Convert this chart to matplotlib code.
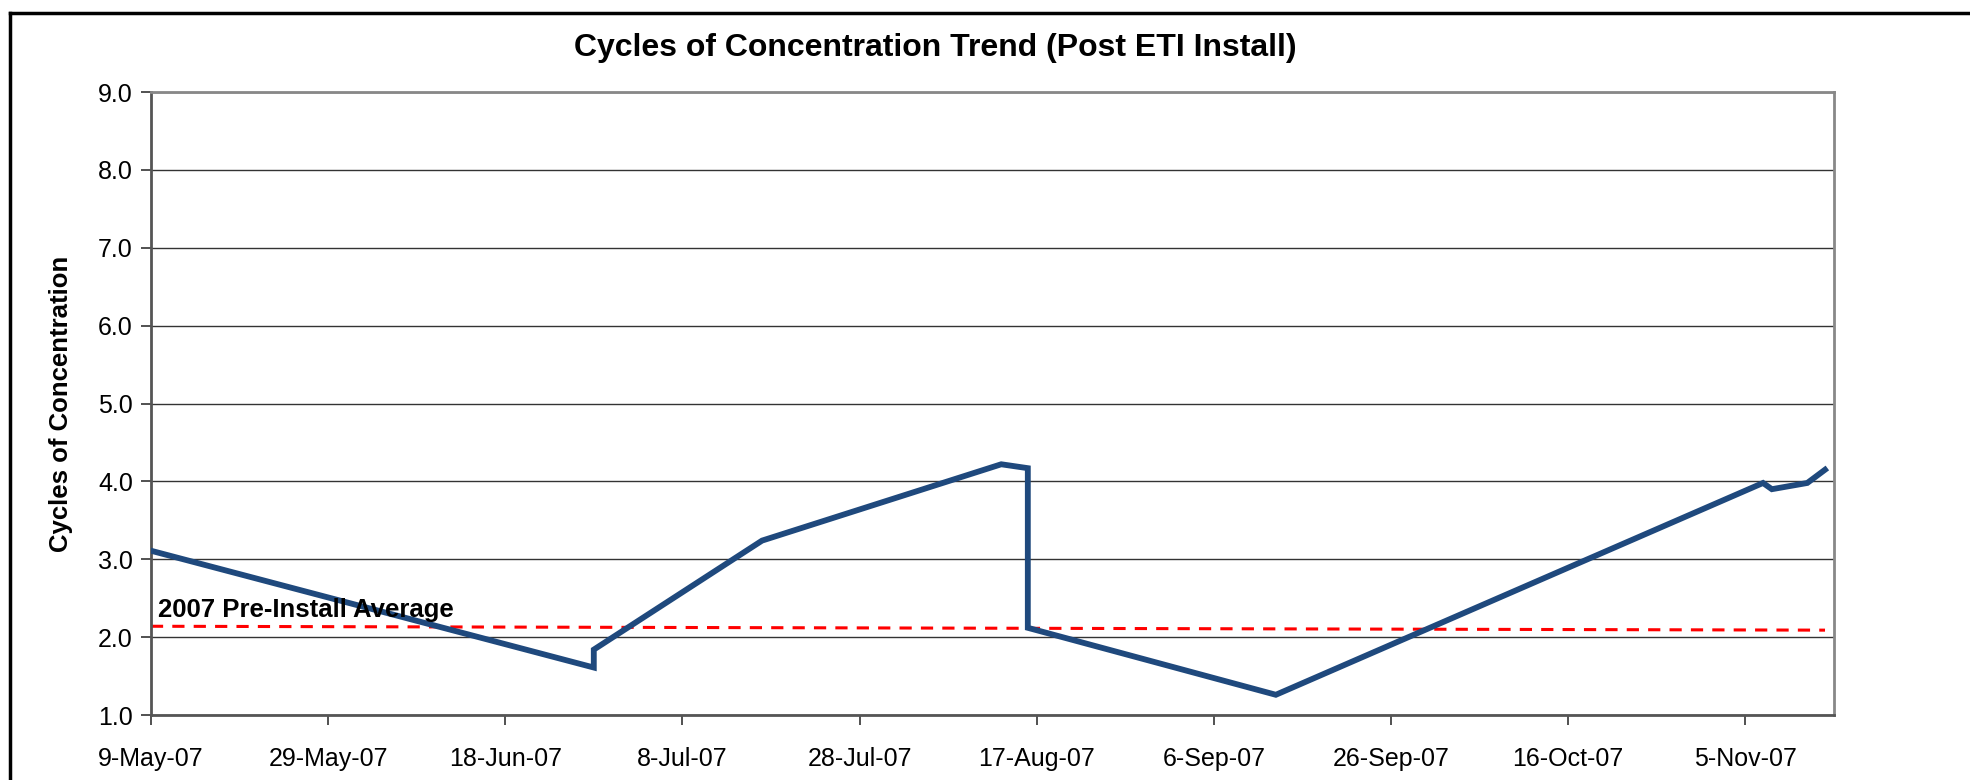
import datetime as dt

import matplotlib
matplotlib.use("Agg")
from matplotlib import pyplot as plt
from matplotlib.lines import Line2D

plt.rcParams["font.family"] = ["Liberation Sans", "DejaVu Sans"]

# cycles of concentration readings
dates = ["2007-05-09", "2007-06-28", "2007-06-28", "2007-07-17", "2007-08-13",
         "2007-08-16", "2007-08-16", "2007-09-13", "2007-11-07", "2007-11-08",
         "2007-11-12", "2007-11-14"]
cycles = [3.11, 1.61, 1.84, 3.24, 4.22, 4.17, 2.12, 1.26, 3.98, 3.90, 3.98, 4.15]

# pre-install average reference line
avg_dates = ["2007-05-09", "2007-11-14"]
avg_values = [2.14, 2.09]

tick_start = "2007-05-09"
n_ticks = 10
tick_step_days = 20

to_dt = lambda s: dt.datetime.strptime(s, "%Y-%m-%d")

fig = plt.figure(figsize=(19.7, 7.8), dpi=100)
ax = fig.add_axes([0.0766, 0.0833, 0.8543, 0.7987])

ax.set_axisbelow(True)
ax.yaxis.grid(True, color="#333333", linewidth=1.0)

ax.plot([to_dt(d) for d in dates], cycles, color="#1F497D", linewidth=4.2,
        solid_joinstyle="miter", zorder=3)
ax.plot([to_dt(d) for d in avg_dates], avg_values, color="#FF0000",
        linewidth=2.2, linestyle=(0, (4, 3)), zorder=2)

ax.text(0.004, 2.2, "2007 Pre-Install Average", transform=ax.get_yaxis_transform(),
        fontsize=18.5, fontweight="bold", ha="left", va="bottom", zorder=4)

ax.set_ylim(1.0, 9.0)
ax.set_yticks([1, 2, 3, 4, 5, 6, 7, 8, 9])
ax.set_yticklabels([f"{v:.1f}" for v in range(1, 10)])

start = to_dt(tick_start)
ticks = [start + dt.timedelta(days=tick_step_days * i) for i in range(n_ticks)]
ax.set_xticks(ticks)
ax.set_xticklabels([f"{t.day}-{t:%b-%y}" for t in ticks])
ax.set_xlim(start, start + dt.timedelta(days=190))

ax.tick_params(axis="both", labelsize=18, direction="out", length=7,
               color="#333333", width=1.2)
ax.tick_params(axis="x", pad=16)
ax.tick_params(axis="y", pad=6)

for side in ["left", "bottom"]:
    ax.spines[side].set_color("#555555")
    ax.spines[side].set_linewidth(2.0)
for side in ["top", "right"]:
    ax.spines[side].set_color("#888888")
    ax.spines[side].set_linewidth(2.0)

ax.set_ylabel("Cycles of Concentration", fontsize=18.5, fontweight="bold", labelpad=18)
fig.text(0.475, 0.938, "Cycles of Concentration Trend (Post ETI Install)",
         fontsize=23, fontweight="bold", ha="center", va="center")

# outer chart frame (only top and left edges are visible)
fig.add_artist(Line2D([0.005, 1.0], [0.983, 0.983], color="black", linewidth=2.5))
fig.add_artist(Line2D([0.005, 0.005], [0.0, 0.983], color="black", linewidth=2.5))

plt.savefig("out.png", dpi=100)
